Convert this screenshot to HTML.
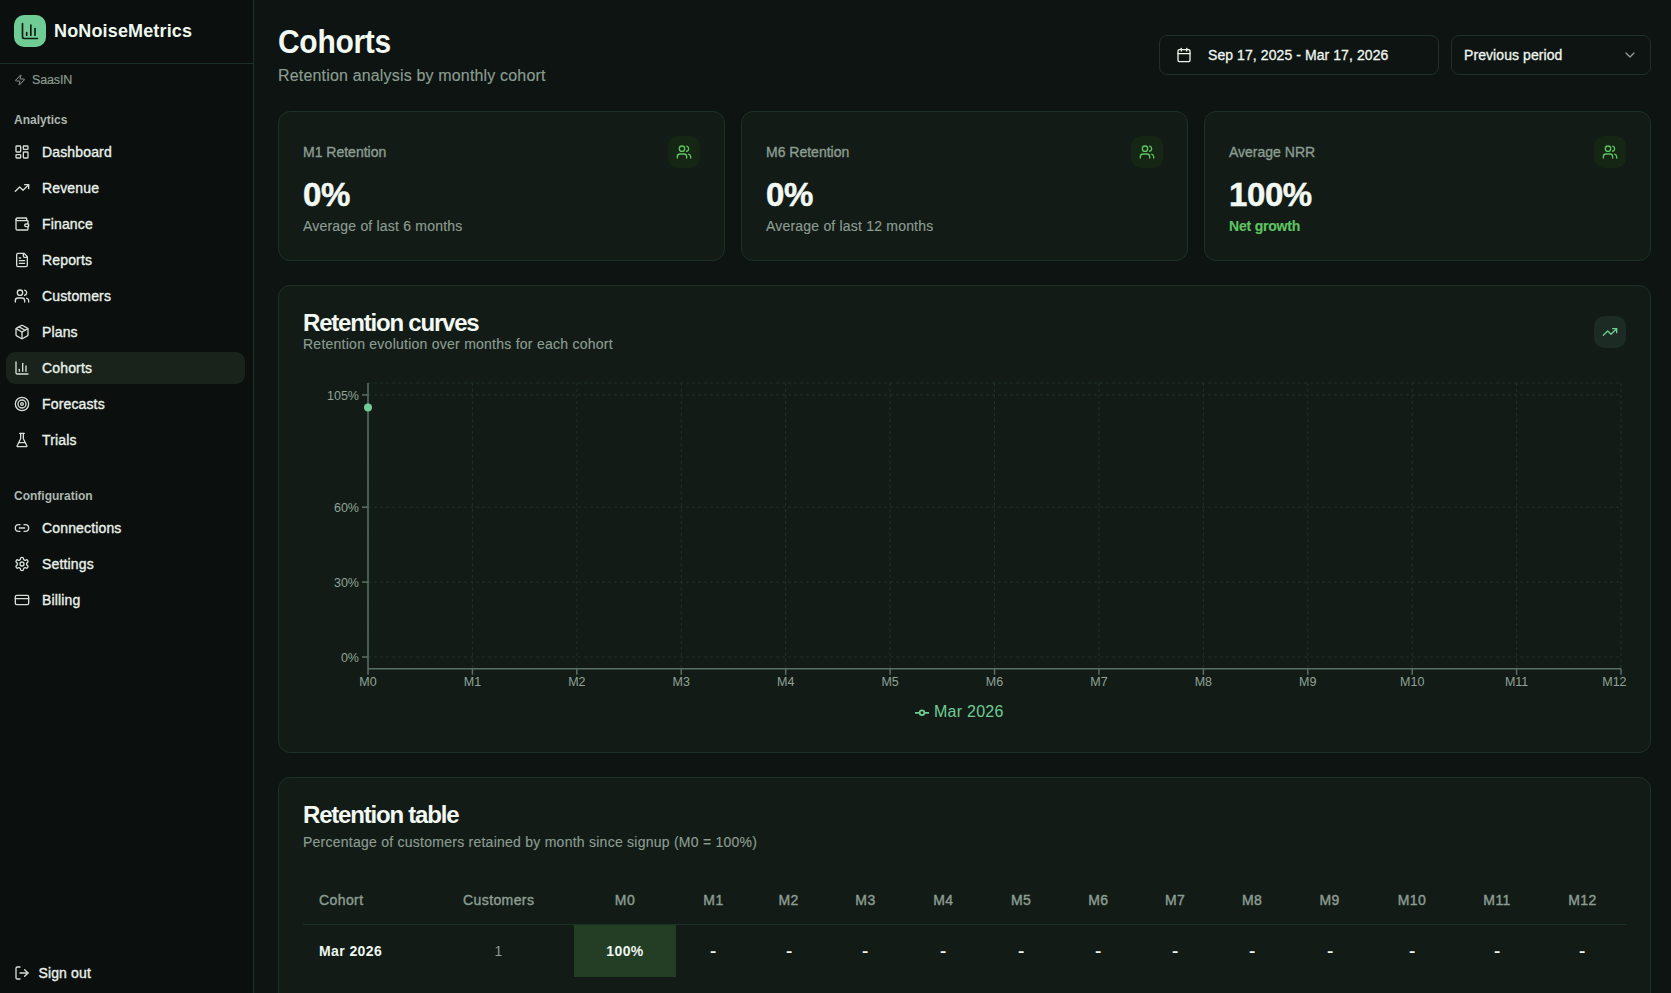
<!DOCTYPE html>
<html lang="en">
<head>
<meta charset="utf-8">
<title>Cohorts - NoNoiseMetrics</title>
<style>
*{box-sizing:border-box;margin:0;padding:0}
html,body{width:1671px;height:993px;overflow:hidden}
body{background:#0e1412;color:#eef6ef;font-family:"Liberation Sans",Arial,sans-serif;position:relative}
svg.i{display:block;fill:none;stroke:currentColor;stroke-width:2;stroke-linecap:round;stroke-linejoin:round}
/* sidebar */
.sb{position:absolute;left:0;top:0;width:254px;height:993px;background:#0b0f0e;border-right:1px solid #1d3025}
.logo{position:absolute;left:14px;top:15px;width:32px;height:32px;border-radius:10px;background:#6fcc94;color:#0d1a12}
.logo svg{position:absolute;left:6px;top:6px}
.brand{position:absolute;left:54px;top:19px;font-size:18px;font-weight:700;line-height:24px;color:#eef8ef;letter-spacing:0.15px}
.sbline{position:absolute;left:0;top:63px;width:253px;height:1px;background:#1d3025}
.org{position:absolute;left:14px;top:72px;height:16px;display:flex;align-items:center;color:#8c998f;font-size:12.5px;letter-spacing:-0.15px;-webkit-text-stroke:0.2px currentColor}
.org svg{margin-right:6px}
.sec{position:absolute;left:14px;font-size:12px;font-weight:700;color:#acb7af;line-height:16px}
.nav{position:absolute;left:6px;width:239px;height:32px;border-radius:9px;display:flex;align-items:center;padding-left:8px;font-size:14px;color:#e9f1ea;font-weight:400;-webkit-text-stroke:0.35px currentColor;letter-spacing:0.15px}
.nav svg{margin-right:12px;color:#d6ded8}
.nav.act{background:#1a231b}
.nav span{position:relative;top:0}
/* main */
.title{position:absolute;left:278px;top:24px;font-size:30px;font-weight:700;line-height:36px;color:#f2f9f2;letter-spacing:-0.3px;transform:scaleY(1.12);transform-origin:0 20px}
.subtitle{position:absolute;left:278px;top:64.5px;font-size:16px;line-height:22px;color:#8b9d91;letter-spacing:0.17px;-webkit-text-stroke:0.15px currentColor}
.btn{position:absolute;top:35px;height:40px;border:1px solid #1e3027;border-radius:8px;background:#0e1412;display:flex;align-items:center;font-size:14px;color:#eef6ef;-webkit-text-stroke:0.3px currentColor;letter-spacing:0.08px}
.card{position:absolute;background:#131b17;border:1px solid #1e3027;border-radius:12px}
.stat .lab{position:absolute;left:24px;top:30px;font-size:14px;color:#8b9d91;line-height:20px;-webkit-text-stroke:0.35px currentColor}
.stat .val{position:absolute;left:24px;top:65px;font-size:33px;font-weight:700;color:#f2f9f2;line-height:36px;-webkit-text-stroke:0.5px currentColor;letter-spacing:-0.4px}
.stat .sub{position:absolute;left:24px;top:104px;font-size:14px;color:#8b9d91;line-height:20px;letter-spacing:0.2px;-webkit-text-stroke:0.15px currentColor}
.stat .ib{position:absolute;right:24px;top:24px;width:32px;height:32px;border-radius:10px;background:#162615;color:#5ec461}
.stat .ib svg{position:absolute;left:8px;top:8px}
.ctitle{position:absolute;left:24px;font-size:24px;font-weight:700;line-height:30px;color:#f2f9f2;letter-spacing:-1.2px}
.csub{position:absolute;left:24px;font-size:14px;line-height:20px;color:#8b9d91;letter-spacing:0.25px;-webkit-text-stroke:0.15px currentColor}
.tk{font-family:"Liberation Sans",Arial,sans-serif;font-size:12.5px;fill:#8fa396}
.lg{font-family:"Liberation Sans",Arial,sans-serif;font-size:16px;fill:#6fcc94;letter-spacing:0.25px}
table.rt{position:absolute;left:24px;top:99px;border-collapse:collapse;table-layout:fixed;width:1322.6px;font-size:14px}
table.rt th{height:47px;font-weight:400;-webkit-text-stroke:0.4px currentColor;letter-spacing:0.4px;color:#8b9d91;text-align:center;border-bottom:1px solid #1d3026}
table.rt td{height:53px;text-align:center;color:#eef6ef;font-weight:700;letter-spacing:0.4px}
table.rt th:first-child,table.rt td:first-child{text-align:left;padding-left:16px}
table.rt td.c1{color:#8b9d91;font-weight:400}
table.rt td.hm{background:#243d25}
.ds{display:inline-block;transform:scaleX(1.35);position:relative;left:0.5px}
</style>
</head>
<body>
<aside class="sb">
  <div class="logo"><svg class="i" width="20" height="20" viewBox="0 0 24 24" stroke-width="2"><path d="M3 3v16a2 2 0 0 0 2 2h16"/><path d="M18 17V9"/><path d="M13 17V5"/><path d="M8 17v-3"/></svg></div>
  <div class="brand">NoNoiseMetrics</div>
  <div class="sbline"></div>
  <div class="org"><svg class="i" width="12" height="12" viewBox="0 0 24 24"><path d="M4 14a1 1 0 0 1-.78-1.63l9.9-10.2a.5.5 0 0 1 .86.46l-1.92 6.02A1 1 0 0 0 13 10h7a1 1 0 0 1 .78 1.63l-9.9 10.2a.5.5 0 0 1-.86-.46l1.92-6.02A1 1 0 0 0 11 14z"/></svg>SaasIN</div>
  <div class="sec" style="top:112px">Analytics</div>
  <div class="nav" style="top:136px"><svg class="i" width="16" height="16" viewBox="0 0 24 24"><rect width="7" height="9" x="3" y="3" rx="1"/><rect width="7" height="5" x="14" y="3" rx="1"/><rect width="7" height="9" x="14" y="12" rx="1"/><rect width="7" height="5" x="3" y="16" rx="1"/></svg><span>Dashboard</span></div>
  <div class="nav" style="top:172px"><svg class="i" width="16" height="16" viewBox="0 0 24 24"><polyline points="22 7 13.5 15.5 8.5 10.5 2 17"/><polyline points="16 7 22 7 22 13"/></svg><span>Revenue</span></div>
  <div class="nav" style="top:208px"><svg class="i" width="16" height="16" viewBox="0 0 24 24"><path d="M19 7V4a1 1 0 0 0-1-1H5a2 2 0 0 0 0 4h15a1 1 0 0 1 1 1v4h-3a2 2 0 0 0 0 4h3a1 1 0 0 0 1-1v-2a1 1 0 0 0-1-1"/><path d="M3 5v14a2 2 0 0 0 2 2h15a1 1 0 0 0 1-1v-4"/></svg><span>Finance</span></div>
  <div class="nav" style="top:244px"><svg class="i" width="16" height="16" viewBox="0 0 24 24"><path d="M15 2H6a2 2 0 0 0-2 2v16a2 2 0 0 0 2 2h12a2 2 0 0 0 2-2V7Z"/><path d="M14 2v4a2 2 0 0 0 2 2h4"/><path d="M10 9H8"/><path d="M16 13H8"/><path d="M16 17H8"/></svg><span>Reports</span></div>
  <div class="nav" style="top:280px"><svg class="i" width="16" height="16" viewBox="0 0 24 24"><path d="M16 21v-2a4 4 0 0 0-4-4H6a4 4 0 0 0-4 4v2"/><circle cx="9" cy="7" r="4"/><path d="M22 21v-2a4 4 0 0 0-3-3.87"/><path d="M16 3.13a4 4 0 0 1 0 7.75"/></svg><span>Customers</span></div>
  <div class="nav" style="top:316px"><svg class="i" width="16" height="16" viewBox="0 0 24 24"><path d="m7.5 4.27 9 5.15"/><path d="M21 8a2 2 0 0 0-1-1.730l-7-4a2 2 0 0 0-2 0l-7 4A2 2 0 0 0 3 8v8a2 2 0 0 0 1 1.73l7 4a2 2 0 0 0 2 0l7-4A2 2 0 0 0 21 16Z"/><path d="m3.3 7 8.7 5 8.7-5"/><path d="M12 22V12"/></svg><span>Plans</span></div>
  <div class="nav act" style="top:352px"><svg class="i" width="16" height="16" viewBox="0 0 24 24"><path d="M3 3v16a2 2 0 0 0 2 2h16"/><path d="M18 17V9"/><path d="M13 17V5"/><path d="M8 17v-3"/></svg><span>Cohorts</span></div>
  <div class="nav" style="top:388px"><svg class="i" width="16" height="16" viewBox="0 0 24 24"><circle cx="12" cy="12" r="10"/><circle cx="12" cy="12" r="6"/><circle cx="12" cy="12" r="2"/></svg><span>Forecasts</span></div>
  <div class="nav" style="top:424px"><svg class="i" width="16" height="16" viewBox="0 0 24 24"><path d="M10 2v7.527a2 2 0 0 1-.211.896L4.720 20.55a1 1 0 0 0 .9 1.45h12.76a1 1 0 0 0 .9-1.45l-5.069-10.127A2 2 0 0 1 14 9.527V2"/><path d="M8.5 2h7"/><path d="M7 16h10"/></svg><span>Trials</span></div>
  <div class="sec" style="top:488px">Configuration</div>
  <div class="nav" style="top:512px"><svg class="i" width="16" height="16" viewBox="0 0 24 24"><path d="M9 17H7A5 5 0 0 1 7 7h2"/><path d="M15 7h2a5 5 0 1 1 0 10h-2"/><line x1="8" x2="16" y1="12" y2="12"/></svg><span>Connections</span></div>
  <div class="nav" style="top:548px"><svg class="i" width="16" height="16" viewBox="0 0 24 24"><path d="M12.22 2h-.44a2 2 0 0 0-2 2v.18a2 2 0 0 1-1 1.73l-.43.25a2 2 0 0 1-2 0l-.15-.08a2 2 0 0 0-2.73.73l-.22.38a2 2 0 0 0 .73 2.73l.15.1a2 2 0 0 1 1 1.72v.51a2 2 0 0 1-1 1.74l-.15.09a2 2 0 0 0-.73 2.73l.22.38a2 2 0 0 0 2.73.73l.15-.08a2 2 0 0 1 2 0l.43.25a2 2 0 0 1 1 1.73V20a2 2 0 0 0 2 2h.44a2 2 0 0 0 2-2v-.18a2 2 0 0 1 1-1.73l.43-.25a2 2 0 0 1 2 0l.15.08a2 2 0 0 0 2.73-.73l.22-.39a2 2 0 0 0-.73-2.730l-.15-.08a2 2 0 0 1-1-1.74v-.5a2 2 0 0 1 1-1.74l.15-.09a2 2 0 0 0 .73-2.73l-.22-.38a2 2 0 0 0-2.73-.73l-.15.08a2 2 0 0 1-2 0l-.43-.25a2 2 0 0 1-1-1.73V4a2 2 0 0 0-2-2z"/><circle cx="12" cy="12" r="3"/></svg><span>Settings</span></div>
  <div class="nav" style="top:584px"><svg class="i" width="16" height="16" viewBox="0 0 24 24"><rect width="20" height="14" x="2" y="5" rx="2"/><line x1="2" x2="22" y1="10" y2="10"/></svg><span>Billing</span></div>
  <div class="nav" style="top:957px;padding-left:8px"><svg class="i" width="16" height="16" viewBox="0 0 24 24" style="margin-right:8.4px"><path d="M9 21H5a2 2 0 0 1-2-2V5a2 2 0 0 1 2-2h4"/><polyline points="16 17 21 12 16 7"/><line x1="21" x2="9" y1="12" y2="12"/></svg><span>Sign out</span></div>
</aside>

<div class="title">Cohorts</div>
<div class="subtitle">Retention analysis by monthly cohort</div>
<div class="btn" style="left:1159px;width:280px;padding-left:16px"><svg class="i" width="16" height="16" viewBox="0 0 24 24" style="margin-right:16px"><path d="M8 2v4"/><path d="M16 2v4"/><rect width="18" height="18" x="3" y="4" rx="2"/><path d="M3 10h18"/></svg>Sep 17, 2025 - Mar 17, 2026</div>
<div class="btn" style="left:1451px;width:200px;padding-left:12px">Previous period<svg class="i" width="16" height="16" viewBox="0 0 24 24" style="position:absolute;right:12px;top:11px;opacity:.6"><path d="m6 9 6 6 6-6"/></svg></div>

<!-- stat cards -->
<div class="card stat" style="left:278px;top:111px;width:447px;height:150px">
  <div class="lab">M1 Retention</div>
  <div class="val">0%</div>
  <div class="sub">Average of last 6 months</div>
  <div class="ib"><svg class="i" width="16" height="16" viewBox="0 0 24 24"><path d="M16 21v-2a4 4 0 0 0-4-4H6a4 4 0 0 0-4 4v2"/><circle cx="9" cy="7" r="4"/><path d="M22 21v-2a4 4 0 0 0-3-3.87"/><path d="M16 3.13a4 4 0 0 1 0 7.75"/></svg></div>
</div>
<div class="card stat" style="left:741px;top:111px;width:447px;height:150px">
  <div class="lab">M6 Retention</div>
  <div class="val">0%</div>
  <div class="sub">Average of last 12 months</div>
  <div class="ib"><svg class="i" width="16" height="16" viewBox="0 0 24 24"><path d="M16 21v-2a4 4 0 0 0-4-4H6a4 4 0 0 0-4 4v2"/><circle cx="9" cy="7" r="4"/><path d="M22 21v-2a4 4 0 0 0-3-3.87"/><path d="M16 3.13a4 4 0 0 1 0 7.75"/></svg></div>
</div>
<div class="card stat" style="left:1204px;top:111px;width:447px;height:150px">
  <div class="lab">Average NRR</div>
  <div class="val">100%</div>
  <div class="sub" style="color:#5ec461;font-weight:700;letter-spacing:-0.2px">Net growth</div>
  <div class="ib"><svg class="i" width="16" height="16" viewBox="0 0 24 24"><path d="M16 21v-2a4 4 0 0 0-4-4H6a4 4 0 0 0-4 4v2"/><circle cx="9" cy="7" r="4"/><path d="M22 21v-2a4 4 0 0 0-3-3.87"/><path d="M16 3.13a4 4 0 0 1 0 7.75"/></svg></div>
</div>

<!-- chart card -->
<div class="card" style="left:278px;top:285px;width:1373px;height:468px">
  <div class="ctitle" style="top:22px">Retention curves</div>
  <div class="csub" style="top:48px">Retention evolution over months for each cohort</div>
  <div class="ib2" style="position:absolute;right:24px;top:30px;width:32px;height:32px;border-radius:10px;background:#1c2b23;color:#6fcc94"><svg class="i" width="16" height="16" viewBox="0 0 24 24" style="position:absolute;left:8px;top:8px"><polyline points="22 7 13.5 15.5 8.5 10.5 2 17"/><polyline points="16 7 22 7 22 13"/></svg></div>
  
</div>

<!-- table card -->
<div class="card" style="left:278px;top:777px;width:1373px;height:300px">
  <div class="ctitle" style="top:22px">Retention table</div>
  <div class="csub" style="top:54px">Percentage of customers retained by month since signup (M0 = 100%)</div>
  <table class="rt"><colgroup><col style="width:120.4px"><col style="width:150.6px"><col style="width:102px"><col style="width:75px"><col style="width:75.2px"><col style="width:78.6px"><col style="width:77px"><col style="width:78.6px"><col style="width:75.8px"><col style="width:78px"><col style="width:75.8px"><col style="width:79.2px"><col style="width:85.6px"><col style="width:84.6px"><col style="width:86.2px"></colgroup><thead><tr><th>Cohort</th><th>Customers</th><th>M0</th><th>M1</th><th>M2</th><th>M3</th><th>M4</th><th>M5</th><th>M6</th><th>M7</th><th>M8</th><th>M9</th><th>M10</th><th>M11</th><th>M12</th></tr></thead><tbody><tr><td>Mar 2026</td><td class="c1">1</td><td class="hm">100%</td><td><span class="ds">-</span></td><td><span class="ds">-</span></td><td><span class="ds">-</span></td><td><span class="ds">-</span></td><td><span class="ds">-</span></td><td><span class="ds">-</span></td><td><span class="ds">-</span></td><td><span class="ds">-</span></td><td><span class="ds">-</span></td><td><span class="ds">-</span></td><td><span class="ds">-</span></td><td><span class="ds">-</span></td></tr></tbody></table>
</div>
<!--CHARTSVG-->
<svg width="1671" height="993" style="position:absolute;left:0;top:0;pointer-events:none" viewBox="0 0 1671 993">
<line x1="368.0" x2="1621.05" y1="383.0" y2="383.0" stroke="#203328" stroke-width="1" stroke-dasharray="3 3" fill="none"/>
<line x1="368.0" x2="1621.05" y1="657.0" y2="657.0" stroke="#203328" stroke-width="1" stroke-dasharray="3 3" fill="none"/>
<line x1="368.0" x2="1621.05" y1="582.1" y2="582.1" stroke="#203328" stroke-width="1" stroke-dasharray="3 3" fill="none"/>
<line x1="368.0" x2="1621.05" y1="507.2" y2="507.2" stroke="#203328" stroke-width="1" stroke-dasharray="3 3" fill="none"/>
<line x1="368.0" x2="1621.05" y1="394.9" y2="394.9" stroke="#203328" stroke-width="1" stroke-dasharray="3 3" fill="none"/>
<line x1="368.00" x2="368.00" y1="383.0" y2="668.8" stroke="#203328" stroke-width="1" stroke-dasharray="3 3" fill="none"/>
<line x1="472.42" x2="472.42" y1="383.0" y2="668.8" stroke="#203328" stroke-width="1" stroke-dasharray="3 3" fill="none"/>
<line x1="576.84" x2="576.84" y1="383.0" y2="668.8" stroke="#203328" stroke-width="1" stroke-dasharray="3 3" fill="none"/>
<line x1="681.26" x2="681.26" y1="383.0" y2="668.8" stroke="#203328" stroke-width="1" stroke-dasharray="3 3" fill="none"/>
<line x1="785.68" x2="785.68" y1="383.0" y2="668.8" stroke="#203328" stroke-width="1" stroke-dasharray="3 3" fill="none"/>
<line x1="890.10" x2="890.10" y1="383.0" y2="668.8" stroke="#203328" stroke-width="1" stroke-dasharray="3 3" fill="none"/>
<line x1="994.52" x2="994.52" y1="383.0" y2="668.8" stroke="#203328" stroke-width="1" stroke-dasharray="3 3" fill="none"/>
<line x1="1098.95" x2="1098.95" y1="383.0" y2="668.8" stroke="#203328" stroke-width="1" stroke-dasharray="3 3" fill="none"/>
<line x1="1203.37" x2="1203.37" y1="383.0" y2="668.8" stroke="#203328" stroke-width="1" stroke-dasharray="3 3" fill="none"/>
<line x1="1307.79" x2="1307.79" y1="383.0" y2="668.8" stroke="#203328" stroke-width="1" stroke-dasharray="3 3" fill="none"/>
<line x1="1412.21" x2="1412.21" y1="383.0" y2="668.8" stroke="#203328" stroke-width="1" stroke-dasharray="3 3" fill="none"/>
<line x1="1516.63" x2="1516.63" y1="383.0" y2="668.8" stroke="#203328" stroke-width="1" stroke-dasharray="3 3" fill="none"/>
<line x1="1621.05" x2="1621.05" y1="383.0" y2="668.8" stroke="#203328" stroke-width="1" stroke-dasharray="3 3" fill="none"/>
<line x1="368.0" x2="368.0" y1="383.0" y2="668.8" stroke="#5b7064" stroke-width="1.5" fill="none"/>
<line x1="362.0" x2="368.0" y1="657.0" y2="657.0" stroke="#5b7064" stroke-width="1.5" fill="none"/>
<text x="359.0" y="662.0" text-anchor="end" class="tk">0%</text>
<line x1="362.0" x2="368.0" y1="582.1" y2="582.1" stroke="#5b7064" stroke-width="1.5" fill="none"/>
<text x="359.0" y="587.1" text-anchor="end" class="tk">30%</text>
<line x1="362.0" x2="368.0" y1="507.2" y2="507.2" stroke="#5b7064" stroke-width="1.5" fill="none"/>
<text x="359.0" y="512.2" text-anchor="end" class="tk">60%</text>
<line x1="362.0" x2="368.0" y1="394.9" y2="394.9" stroke="#5b7064" stroke-width="1.5" fill="none"/>
<text x="359.0" y="399.9" text-anchor="end" class="tk">105%</text>
<line x1="368.0" x2="1621.05" y1="668.8" y2="668.8" stroke="#5b7064" stroke-width="1.5" fill="none"/>
<line x1="368.00" x2="368.00" y1="668.8" y2="674.8" stroke="#5b7064" stroke-width="1.5" fill="none"/>
<text x="368.00" y="685.8" text-anchor="middle" class="tk">M0</text>
<line x1="472.42" x2="472.42" y1="668.8" y2="674.8" stroke="#5b7064" stroke-width="1.5" fill="none"/>
<text x="472.42" y="685.8" text-anchor="middle" class="tk">M1</text>
<line x1="576.84" x2="576.84" y1="668.8" y2="674.8" stroke="#5b7064" stroke-width="1.5" fill="none"/>
<text x="576.84" y="685.8" text-anchor="middle" class="tk">M2</text>
<line x1="681.26" x2="681.26" y1="668.8" y2="674.8" stroke="#5b7064" stroke-width="1.5" fill="none"/>
<text x="681.26" y="685.8" text-anchor="middle" class="tk">M3</text>
<line x1="785.68" x2="785.68" y1="668.8" y2="674.8" stroke="#5b7064" stroke-width="1.5" fill="none"/>
<text x="785.68" y="685.8" text-anchor="middle" class="tk">M4</text>
<line x1="890.10" x2="890.10" y1="668.8" y2="674.8" stroke="#5b7064" stroke-width="1.5" fill="none"/>
<text x="890.10" y="685.8" text-anchor="middle" class="tk">M5</text>
<line x1="994.52" x2="994.52" y1="668.8" y2="674.8" stroke="#5b7064" stroke-width="1.5" fill="none"/>
<text x="994.52" y="685.8" text-anchor="middle" class="tk">M6</text>
<line x1="1098.95" x2="1098.95" y1="668.8" y2="674.8" stroke="#5b7064" stroke-width="1.5" fill="none"/>
<text x="1098.95" y="685.8" text-anchor="middle" class="tk">M7</text>
<line x1="1203.37" x2="1203.37" y1="668.8" y2="674.8" stroke="#5b7064" stroke-width="1.5" fill="none"/>
<text x="1203.37" y="685.8" text-anchor="middle" class="tk">M8</text>
<line x1="1307.79" x2="1307.79" y1="668.8" y2="674.8" stroke="#5b7064" stroke-width="1.5" fill="none"/>
<text x="1307.79" y="685.8" text-anchor="middle" class="tk">M9</text>
<line x1="1412.21" x2="1412.21" y1="668.8" y2="674.8" stroke="#5b7064" stroke-width="1.5" fill="none"/>
<text x="1412.21" y="685.8" text-anchor="middle" class="tk">M10</text>
<line x1="1516.63" x2="1516.63" y1="668.8" y2="674.8" stroke="#5b7064" stroke-width="1.5" fill="none"/>
<text x="1516.63" y="685.8" text-anchor="middle" class="tk">M11</text>
<line x1="1621.05" x2="1621.05" y1="668.8" y2="674.8" stroke="#5b7064" stroke-width="1.5" fill="none"/>
<text x="1614.40" y="685.8" text-anchor="middle" class="tk">M12</text>
<circle cx="368.0" cy="407.4" r="4" fill="#6fcc94"/>
<path d="M915,712.8h4.67A2.33,2.33,0,1,1,924.33,712.8H929M924.33,712.8A2.33,2.33,0,1,1,919.67,712.8" fill="none" stroke="#6fcc94" stroke-width="1.75"/>
<text x="934" y="717" class="lg">Mar 2026</text>
</svg>
<!--/CHARTSVG-->
</body>
</html>
